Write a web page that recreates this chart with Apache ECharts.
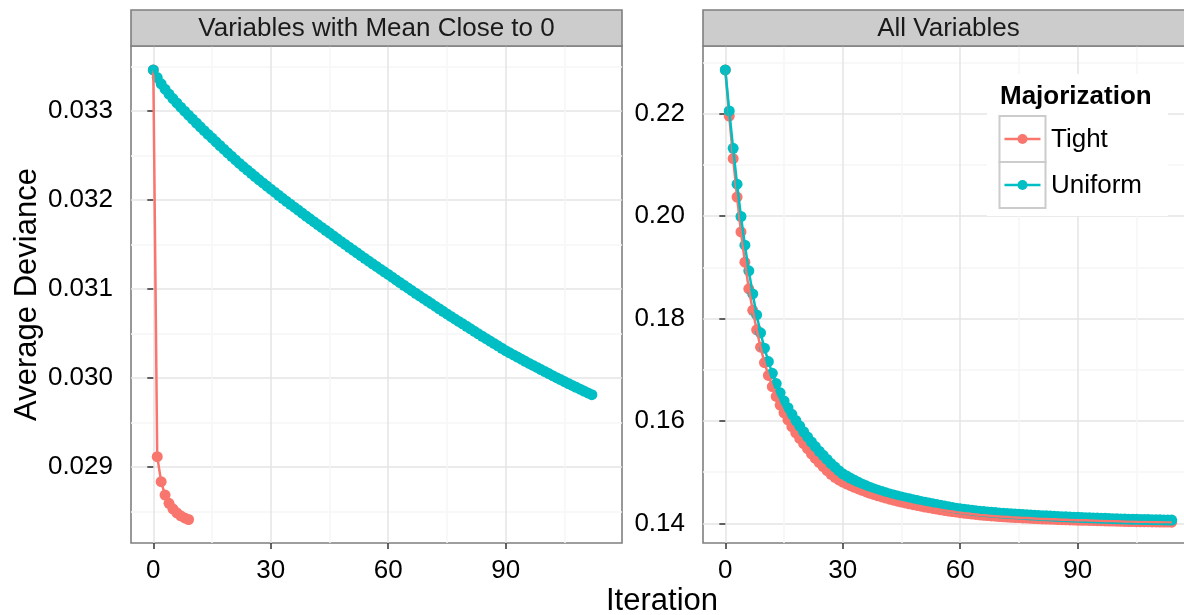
<!DOCTYPE html>
<html>
<head>
<meta charset="utf-8">
<script src="https://cdn.jsdelivr.net/npm/echarts@6/dist/echarts.min.js"></script>
<style>
  html, body { margin: 0; padding: 0; background: #ffffff; }
  #chart { width: 1184px; height: 615px; }
</style>
</head>
<body>
<div id="chart"></div>
<script>
// Average deviance per iteration, two facets, two majorization schemes.
const panelTitles = ['Variables with Mean Close to 0', 'All Variables'];
const seriesNames = ['Tight', 'Uniform'];
const legendTitle = 'Majorization';
const xTitle = 'Iteration';
const yTitle = 'Average Deviance';

const xTicks = [0, 30, 60, 90];
const yTicksLeft = [0.029, 0.030, 0.031, 0.032, 0.033];
const yTicksRight = [0.14, 0.16, 0.18, 0.20, 0.22];

// Facet 1: variables with mean close to 0 (value at iteration = index)
const closeTight = [
  0.033461, 0.029116, 0.028835, 0.028685, 0.028592, 0.028530, 0.028485, 0.028452, 0.028428, 0.028410
];
const closeUniform = [
  0.033461, 0.033375, 0.033305, 0.033245, 0.033190, 0.033139, 0.033090, 0.033043, 0.032998, 0.032953,
  0.032909, 0.032865, 0.032822, 0.032779, 0.032737, 0.032695, 0.032653, 0.032612, 0.032571, 0.032530,
  0.032490, 0.032450, 0.032411, 0.032373, 0.032336, 0.032299, 0.032263, 0.032227, 0.032191, 0.032156,
  0.032121, 0.032087, 0.032053, 0.032019, 0.031985, 0.031952, 0.031919, 0.031886, 0.031853, 0.031820,
  0.031788, 0.031756, 0.031724, 0.031692, 0.031660, 0.031628, 0.031596, 0.031564, 0.031532, 0.031500,
  0.031469, 0.031438, 0.031407, 0.031376, 0.031345, 0.031314, 0.031283, 0.031253, 0.031223, 0.031193,
  0.031163, 0.031132, 0.031102, 0.031072, 0.031042, 0.031012, 0.030982, 0.030952, 0.030923, 0.030894,
  0.030865, 0.030836, 0.030807, 0.030778, 0.030749, 0.030720, 0.030692, 0.030664, 0.030636, 0.030608,
  0.030580, 0.030552, 0.030524, 0.030496, 0.030469, 0.030442, 0.030415, 0.030388, 0.030361, 0.030334,
  0.030307, 0.030283, 0.030259, 0.030235, 0.030211, 0.030187, 0.030164, 0.030141, 0.030118, 0.030095,
  0.030072, 0.030049, 0.030026, 0.030004, 0.029982, 0.029960, 0.029938, 0.029916, 0.029895, 0.029874,
  0.029853, 0.029832, 0.029812
];

// Facet 2: all variables
const allTight = [
  0.2285, 0.2195, 0.2112, 0.2037, 0.1969, 0.1910, 0.1858, 0.1816, 0.1778, 0.1744,
  0.1714, 0.1689, 0.1667, 0.1648, 0.1631, 0.1616, 0.1602, 0.1589, 0.1577, 0.1566,
  0.1556, 0.1546, 0.1536, 0.1527, 0.1519, 0.1511, 0.1503, 0.1496, 0.1490, 0.1485,
  0.14810, 0.14773, 0.14738, 0.14705, 0.14674, 0.14645, 0.14617, 0.14590, 0.14565, 0.14541,
  0.14518, 0.14496, 0.14475, 0.14455, 0.14436, 0.14418, 0.14401, 0.14384, 0.14368, 0.14352,
  0.14337, 0.14322, 0.14308, 0.14294, 0.14281, 0.14268, 0.14256, 0.14244, 0.14233, 0.14222,
  0.14212, 0.14202, 0.14193, 0.14184, 0.14176, 0.14168, 0.14161, 0.14154, 0.14148, 0.14142,
  0.14136, 0.14131, 0.14126, 0.14121, 0.14117, 0.14113, 0.14109, 0.14105, 0.14101, 0.14097,
  0.14093, 0.14090, 0.14087, 0.14084, 0.14081, 0.14078, 0.14075, 0.14072, 0.14069, 0.14067,
  0.14065, 0.14063, 0.14061, 0.14059, 0.14057, 0.14055, 0.14053, 0.14051, 0.14049, 0.14047,
  0.14045, 0.14043, 0.14041, 0.14039, 0.14037, 0.14035, 0.14034, 0.14033, 0.14032, 0.14031,
  0.14030, 0.14029, 0.14028, 0.14027, 0.14026
];
const allUniform = [
  0.2285, 0.2205, 0.2132, 0.2062, 0.1999, 0.1943, 0.1893, 0.1848, 0.1807, 0.1772,
  0.1742, 0.1716, 0.1693, 0.1673, 0.1655, 0.1639, 0.1626, 0.1613, 0.1601, 0.1590,
  0.1579, 0.1569, 0.1559, 0.1550, 0.1541, 0.1533, 0.1525, 0.1517, 0.1510, 0.1503,
  0.1497, 0.14925, 0.14882, 0.14842, 0.14804, 0.14768, 0.14735, 0.14704, 0.14675, 0.14648,
  0.14623, 0.14599, 0.14577, 0.14556, 0.14536, 0.14517, 0.14499, 0.14481, 0.14464, 0.14447,
  0.14431, 0.14415, 0.14399, 0.14384, 0.14369, 0.14354, 0.14340, 0.14326, 0.14312, 0.14299,
  0.14286, 0.14276, 0.14266, 0.14257, 0.14249, 0.14241, 0.14233, 0.14226, 0.14219, 0.14213,
  0.14207, 0.14201, 0.14196, 0.14191, 0.14186, 0.14181, 0.14176, 0.14171, 0.14166, 0.14162,
  0.14157, 0.14153, 0.14149, 0.14145, 0.14141, 0.14137, 0.14133, 0.14130, 0.14126, 0.14123,
  0.14120, 0.14117, 0.14114, 0.14111, 0.14108, 0.14105, 0.14102, 0.14100, 0.14097, 0.14095,
  0.14092, 0.14090, 0.14088, 0.14085, 0.14083, 0.14081, 0.14079, 0.14077, 0.14076, 0.14074,
  0.14072, 0.14071, 0.14069, 0.14068, 0.14067
];

// ---- styling / layout ----
const COLORS = ['#F8766D', '#00BFC4'];
const FONT = "'Liberation Sans', Arial, Helvetica, sans-serif";
const PANEL = { top: 46, height: 497, width: 491, lefts: [131, 703] };
const STRIP_H = 36;
const X_RANGE = [-5.7, 119.7];
const Y_RANGES = [[0.028146, 0.03373], [0.136195, 0.233171]];

const toPairs = arr => arr.map((v, i) => [i, v]);

const chart = echarts.init(document.getElementById('chart'), null, { renderer: 'canvas' });

const grids = PANEL.lefts.map(l => ({
  left: l, top: PANEL.top, width: PANEL.width, height: PANEL.height,
  show: true, borderColor: '#7F7F7F', borderWidth: 1.6, backgroundColor: 'transparent',
  containLabel: false, outerBoundsMode: 'none'
}));

const xAxes = [0, 1].map(g => ({
  type: 'value', gridIndex: g, min: X_RANGE[0], max: X_RANGE[1], splitNumber: 4,
  axisLine: { show: false },
  axisTick: { show: true, length: 6, lineStyle: { color: '#333333', width: 1.5 }, customValues: xTicks },
  axisLabel: { show: true, customValues: xTicks, color: '#000', fontSize: 26, fontFamily: FONT, margin: 15,
               formatter: v => String(v) },
  splitLine: { show: true, lineStyle: { color: '#E5E5E5', width: 1.5 } },
  minorTick: { show: false, splitNumber: 2 },
  minorSplitLine: { show: true, lineStyle: { color: '#F6F6F6', width: 1.5 } }
}));

const yTickSets = [yTicksLeft, yTicksRight];
const yDigits = [3, 2];
const yAxes = [0, 1].map(g => ({
  type: 'value', gridIndex: g, min: Y_RANGES[g][0], max: Y_RANGES[g][1], splitNumber: 5,
  axisLine: { show: false },
  axisTick: { show: true, length: 6, lineStyle: { color: '#333333', width: 1.5 }, customValues: yTickSets[g] },
  axisLabel: { show: true, customValues: yTickSets[g], color: '#000', fontSize: 26, fontFamily: FONT, margin: 18,
               formatter: v => v.toFixed(yDigits[g]) },
  splitLine: { show: true, lineStyle: { color: '#E5E5E5', width: 1.5 } },
  minorTick: { show: false, splitNumber: 2 },
  minorSplitLine: { show: true, lineStyle: { color: '#F6F6F6', width: 1.5 } }
}));

// points first, then lines on top (tight, then uniform)
const panels = [[closeTight, closeUniform], [allTight, allUniform]];
const series = [];
panels.forEach((pair, g) => {
  pair.forEach((vals, k) => {
    series.push({
      type: 'scatter', name: seriesNames[k], xAxisIndex: g, yAxisIndex: g,
      data: toPairs(vals), symbol: 'circle', symbolSize: 11,
      itemStyle: { color: COLORS[k], opacity: 1 }, silent: true, z: 2
    });
  });
  pair.forEach((vals, k) => {
    series.push({
      type: 'line', name: seriesNames[k], xAxisIndex: g, yAxisIndex: g,
      data: toPairs(vals), symbol: 'none', showSymbol: false, smooth: false,
      lineStyle: { color: COLORS[k], width: 2.5 }, itemStyle: { color: COLORS[k] },
      silent: true, z: 3
    });
  });
});

// facet strips, axis titles and the key
const graphics = [];
PANEL.lefts.forEach((l, g) => {
  graphics.push({
    type: 'rect', shape: { x: l, y: PANEL.top - STRIP_H, width: PANEL.width, height: STRIP_H },
    style: { fill: '#CCCCCC', stroke: '#7F7F7F', lineWidth: 1.6 }, z: 50
  });
  graphics.push({
    type: 'text', x: l + PANEL.width / 2, y: PANEL.top - STRIP_H / 2 + 1,
    style: { text: panelTitles[g], fill: '#1a1a1a', font: '26px ' + FONT, align: 'center', verticalAlign: 'middle' },
    z: 51
  });
});
graphics.push({
  type: 'text', x: 662, y: 601,
  style: { text: xTitle, fill: '#000', font: '31px ' + FONT, align: 'center', verticalAlign: 'middle' }, z: 50
});
graphics.push({
  type: 'text', x: 27, y: PANEL.top + PANEL.height / 2, rotation: Math.PI / 2,
  style: { text: yTitle, fill: '#000', font: '31px ' + FONT, align: 'center', verticalAlign: 'middle' }, z: 50
});

const KEY = { x: 987, y: 74, w: 181, h: 142, boxX: 999.5, boxY: 116, box: 46 };
graphics.push({
  type: 'rect', shape: { x: KEY.x, y: KEY.y, width: KEY.w, height: KEY.h },
  style: { fill: '#ffffff' }, z: 100
});
graphics.push({
  type: 'text', x: 1000, y: 97,
  style: { text: legendTitle, fill: '#000', font: 'bold 26px ' + FONT, align: 'left', verticalAlign: 'middle' },
  z: 101
});
seriesNames.forEach((nm, k) => {
  const by = KEY.boxY + k * KEY.box;
  const cy = by + KEY.box / 2;
  graphics.push({
    type: 'rect', shape: { x: KEY.boxX, y: by, width: KEY.box, height: KEY.box },
    style: { fill: '#ffffff', stroke: '#CCCCCC', lineWidth: 2 }, z: 101
  });
  graphics.push({
    type: 'line', shape: { x1: KEY.boxX + 5, y1: cy, x2: KEY.boxX + KEY.box - 5, y2: cy },
    style: { stroke: COLORS[k], lineWidth: 2.5 }, z: 102
  });
  graphics.push({
    type: 'circle', shape: { cx: KEY.boxX + KEY.box / 2, cy: cy, r: 5 },
    style: { fill: COLORS[k] }, z: 103
  });
  graphics.push({
    type: 'text', x: 1051, y: cy + 1,
    style: { text: nm, fill: '#000', font: '26px ' + FONT, align: 'left', verticalAlign: 'middle' }, z: 102
  });
});

chart.setOption({
  animation: false,
  backgroundColor: '#ffffff',
  textStyle: { fontFamily: FONT },
  grid: grids,
  xAxis: xAxes,
  yAxis: yAxes,
  series: series,
  graphic: { elements: graphics }
});
</script>
</body>
</html>
